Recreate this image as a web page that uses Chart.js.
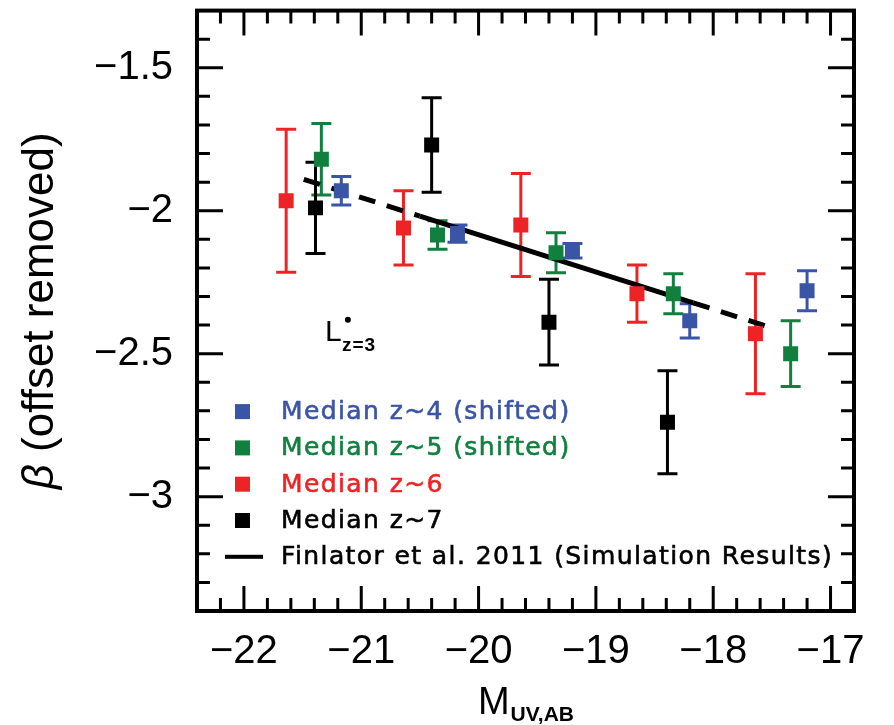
<!DOCTYPE html>
<html>
<head>
<meta charset="utf-8">
<script src="https://cdn.jsdelivr.net/npm/chart.js@4.4.0/dist/chart.umd.min.js"></script>
<style>
  html, body { margin: 0; padding: 0; background: #fff; }
</style>
</head>
<body>
<canvas id="beta-muv" width="894" height="725"></canvas>
<script>
// median UV slopes
const z4Mag = [-21.17, -20.18, -19.20, -18.20, -17.20];
const z4Beta = [-1.93, -2.08, -2.14, -2.385, -2.28];
const z4Err = [0.05, 0.03, 0.025, 0.06, 0.07];

const z5Mag = [-21.34, -20.35, -19.34, -18.34, -17.34];
const z5Beta = [-1.82, -2.085, -2.147, -2.29, -2.50];
const z5Err = [0.125, 0.05, 0.07, 0.07, 0.115];

const z6Mag = [-21.64, -20.64, -19.64, -18.65, -17.64];
const z6Beta = [-1.965, -2.06, -2.05, -2.29, -2.43];
const z6Err = [0.25, 0.13, 0.18, 0.10, 0.21];

const z7Mag = [-21.39, -20.40, -19.40, -18.39];
const z7Beta = [-1.99, -1.77, -2.39, -2.74];
const z7Err = [0.16, 0.165, 0.15, 0.18];

// Finlator et al. 2011 relation (dashed outside the middle stretch)
const simMag = [-21.49, -20.5, -18.17, -17.5];
const simBeta = [-1.89, -2.019, -2.322, -2.41];

const xTicks = [-22, -21, -20, -19, -18, -17];
const yTicks = [-3, -2.5, -2, -1.5];

const blue = '#3b55a6';
const green = '#11803f';
const red = '#ee2326';
const black = '#000000';

const legendRows = [
  { text: 'Median z~4 (shifted)', color: blue, kind: 'box' },
  { text: 'Median z~5 (shifted)', color: green, kind: 'box' },
  { text: 'Median z~6', color: red, kind: 'box' },
  { text: 'Median z~7', color: black, kind: 'box' },
  { text: 'Finlator et al. 2011 (Simulation Results)', color: black, kind: 'line' }
];

function series(label, mags, betas, errs, color) {
  return {
    label: label,
    data: mags.map((m, i) => ({ x: m, y: betas[i] })),
    errors: errs,
    backgroundColor: color,
    borderColor: color,
    pointStyle: 'rect',
    pointRadius: 10.6,
    pointBorderWidth: 0,
    order: 0
  };
}

function fmt(v) {
  return (v < 0 ? '\u2212' : '') + Math.abs(v);
}

const errorBars = {
  id: 'errorBars',
  beforeDatasetsDraw(chart) {
    const { ctx, scales: { x, y } } = chart;
    ctx.save();
    ctx.lineWidth = 3;
    chart.data.datasets.forEach(ds => {
      if (!ds.errors) return;
      ctx.strokeStyle = ds.backgroundColor;
      ds.data.forEach((p, j) => {
        const px = x.getPixelForValue(p.x);
        const top = y.getPixelForValue(p.y + ds.errors[j]);
        const bot = y.getPixelForValue(p.y - ds.errors[j]);
        ctx.beginPath();
        ctx.moveTo(px, top); ctx.lineTo(px, bot);
        ctx.moveTo(px - 10, top); ctx.lineTo(px + 10, top);
        ctx.moveTo(px - 10, bot); ctx.lineTo(px + 10, bot);
        ctx.stroke();
      });
    });
    ctx.restore();
  }
};

// box round the plot with inward ticks on every side
const frameTicks = {
  id: 'frameTicks',
  afterDatasetsDraw(chart) {
    const { ctx, chartArea: a, scales: { x, y } } = chart;
    ctx.save();
    ctx.strokeStyle = '#000';
    ctx.lineWidth = 3;
    ctx.beginPath();
    for (let k = -22.2; k < -16.85; k += 0.2) {
      const v = Math.round(k * 10) / 10;
      const px = x.getPixelForValue(v);
      const len = Math.abs(v - Math.round(v)) < 1e-6 ? 25 : 13;
      ctx.moveTo(px, a.bottom); ctx.lineTo(px, a.bottom - len);
      ctx.moveTo(px, a.top); ctx.lineTo(px, a.top + len);
    }
    for (let k = -3.3; k < -1.35; k += 0.1) {
      const v = Math.round(k * 10) / 10;
      const py = y.getPixelForValue(v);
      const len = Math.abs(v * 2 - Math.round(v * 2)) < 1e-6 ? 26 : 13;
      ctx.moveTo(a.left, py); ctx.lineTo(a.left + len, py);
      ctx.moveTo(a.right, py); ctx.lineTo(a.right - len, py);
    }
    ctx.stroke();
    ctx.lineWidth = 4;
    ctx.strokeRect(a.left, a.top, a.right - a.left, a.bottom - a.top);
    ctx.restore();
  }
};

const labelsAndLegend = {
  id: 'labelsAndLegend',
  afterDraw(chart) {
    const { ctx, chartArea: a, scales: { x, y } } = chart;
    ctx.save();

    // legend inside the plot, lower left
    ctx.font = '25px "DejaVu Sans"';
    ctx.letterSpacing = '1.4px';
    ctx.textBaseline = 'middle';
    ctx.textAlign = 'left';
    ctx.lineWidth = 0.6;
    legendRows.forEach((row, i) => {
      const cy = a.top + 401 + i * 36.3;
      ctx.fillStyle = row.color;
      ctx.strokeStyle = row.color;
      if (row.kind === 'box') {
        ctx.fillRect(a.left + 38, cy - 7.5, 15, 15);
      } else {
        ctx.fillRect(a.left + 28, cy - 2, 38, 4);
      }
      ctx.fillText(row.text, a.left + 84, cy + 1);
      ctx.strokeText(row.text, a.left + 84, cy + 1);
    });

    // L*_{z=3} marker label
    const lx = x.getPixelForValue(-21.31);
    const ly = y.getPixelForValue(-2.455);
    ctx.fillStyle = '#000';
    ctx.letterSpacing = '0px';
    ctx.textBaseline = 'alphabetic';
    ctx.font = '30px "Liberation Sans"';
    ctx.fillText('L', lx, ly);
    ctx.beginPath();
    ctx.arc(lx + 23, ly - 21, 3, 0, Math.PI * 2);
    ctx.fill();
    ctx.font = 'bold 19px "Liberation Sans"';
    ctx.letterSpacing = '1px';
    ctx.fillText('z=3', lx + 17, ly + 10);
    ctx.letterSpacing = '0px';

    // x title with subscript
    ctx.font = '38px "Liberation Sans"';
    const mW = ctx.measureText('M').width;
    ctx.font = 'bold 21px "Liberation Sans"';
    const sW = ctx.measureText('UV,AB').width;
    const x0 = (a.left + a.right) / 2 - (mW + sW) / 2;
    ctx.font = '38px "Liberation Sans"';
    ctx.fillText('M', x0, 714);
    ctx.font = 'bold 21px "Liberation Sans"';
    ctx.fillText('UV,AB', x0 + mW + 1, 721);

    // rotated y title
    ctx.translate(41, (a.top + a.bottom) / 2);
    ctx.rotate(-Math.PI / 2);
    ctx.textBaseline = 'middle';
    ctx.font = 'italic 44px "Liberation Sans"';
    const bW = ctx.measureText('\u03b2').width;
    ctx.font = '44px "Liberation Sans"';
    const rest = ' (offset removed)';
    const rW = ctx.measureText(rest).width;
    const start = -(bW + rW) / 2;
    ctx.font = 'italic 44px "Liberation Sans"';
    ctx.fillText('\u03b2', start, 0);
    ctx.font = '44px "Liberation Sans"';
    ctx.fillText(rest, start + bW, 0);

    ctx.restore();
  }
};

const tickFont = { family: 'Liberation Sans', size: 40 };

new Chart(document.getElementById('beta-muv'), {
  type: 'scatter',
  data: {
    datasets: [
      series('Median z~4 (shifted)', z4Mag, z4Beta, z4Err, blue),
      series('Median z~5 (shifted)', z5Mag, z5Beta, z5Err, green),
      series('Median z~6', z6Mag, z6Beta, z6Err, red),
      series('Median z~7', z7Mag, z7Beta, z7Err, black),
      {
        type: 'line',
        label: 'Finlator et al. 2011 (Simulation Results)',
        data: simMag.map((m, i) => ({ x: m, y: simBeta[i] })),
        borderColor: black,
        borderWidth: 5,
        borderCapStyle: 'butt',
        borderDash: [],
        pointRadius: 0,
        showLine: true,
        fill: false,
        order: 5,
        segment: {
          borderDash: c => (c.p0DataIndex === 1 ? [] : [17, 12])
        }
      }
    ]
  },
  options: {
    responsive: false,
    animation: false,
    devicePixelRatio: 1,
    layout: { padding: { top: 10, right: 40, left: 0, bottom: 0 } },
    plugins: {
      legend: { display: false },
      tooltip: { enabled: false }
    },
    scales: {
      x: {
        type: 'linear',
        min: -22.4,
        max: -16.8,
        grid: { display: false, drawTicks: false },
        border: { display: false },
        afterFit: s => { s.height = 114; s.paddingLeft = 0; s.paddingRight = 0; },
        afterBuildTicks: s => { s.ticks = xTicks.map(v => ({ value: v })); },
        ticks: { font: tickFont, color: '#000', padding: 17, maxRotation: 0, autoSkip: false, callback: v => fmt(v) }
      },
      y: {
        type: 'linear',
        min: -3.4,
        max: -1.3,
        grid: { display: false, drawTicks: false },
        border: { display: false },
        afterFit: s => { s.width = 197; s.paddingTop = 0; s.paddingBottom = 0; },
        afterBuildTicks: s => { s.ticks = yTicks.map(v => ({ value: v })); },
        ticks: { font: tickFont, color: '#000', padding: 24, autoSkip: false, callback: v => fmt(v) }
      }
    }
  },
  plugins: [errorBars, frameTicks, labelsAndLegend]
});
</script>
</body>
</html>
